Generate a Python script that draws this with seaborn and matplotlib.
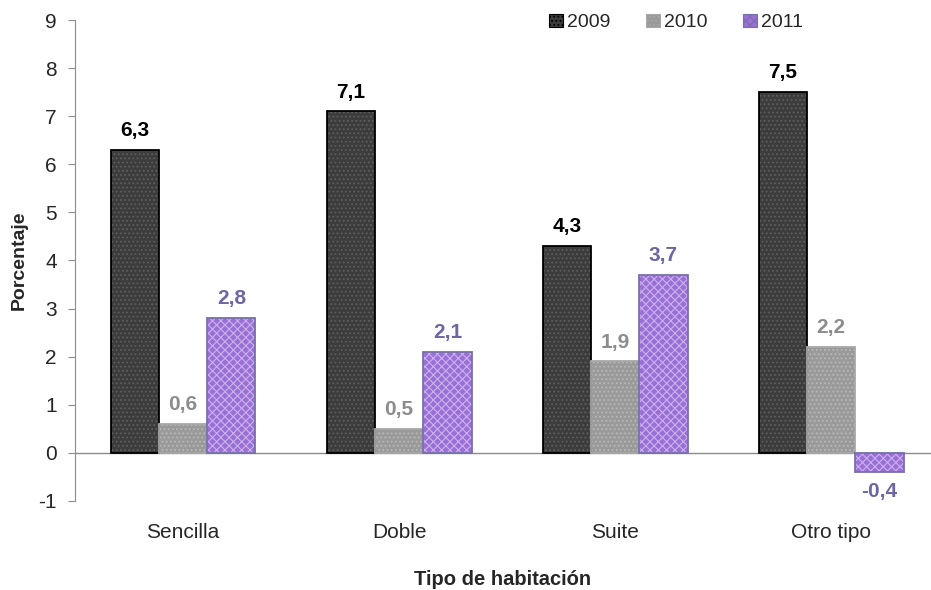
import pandas as pd
import seaborn as sns
import matplotlib.pyplot as plt
from matplotlib.patches import Rectangle

categorias = ["Sencilla", "Doble", "Suite", "Otro tipo"]
anios = ["2009", "2010", "2011"]
v2009 = [6.3, 7.1, 4.3, 7.5]
v2010 = [0.6, 0.5, 1.9, 2.2]
v2011 = [2.8, 2.1, 3.7, -0.4]

df = pd.DataFrame({
    "Tipo": categorias * 3,
    "Año": [a for a in anios for _ in categorias],
    "Porcentaje": v2009 + v2010 + v2011,
})

fill_colors = {"2009": "#3c3c3c", "2010": "#9a9a9a", "2011": "#9b6fd6"}
hatch_colors = {"2009": "#5e5e5e", "2010": "#b8b8b8", "2011": "#c9b3ee"}
edge_colors = {"2009": "#000000", "2010": "#a8a8a8", "2011": "#7870aa"}
label_colors = {"2009": "#000000", "2010": "#8c8c8c", "2011": "#6c66a3"}
hatches = {"2009": "....", "2010": "....", "2011": "xxxx"}

sns.set_style("white")
plt.rcParams["font.family"] = ["Liberation Sans", "DejaVu Sans"]
plt.rcParams["hatch.linewidth"] = 0.8
plt.rcParams["axes.unicode_minus"] = False

fig = plt.figure(figsize=(9.31, 5.9), dpi=100)
ax = fig.add_axes([0.0806, 0.151, 0.919, 0.815])

sns.barplot(data=df, x="Tipo", y="Porcentaje", hue="Año", palette=fill_colors,
            width=0.67, saturation=1, ax=ax, legend=False)

for cont, anio in zip(ax.containers, anios):
    for p in cont:
        p.set_hatch(hatches[anio])
        p.set_edgecolor(hatch_colors[anio])
        p.set_linewidth(0)
        ax.add_patch(Rectangle(p.get_xy(), p.get_width(), p.get_height(),
                               fill=False, edgecolor=edge_colors[anio],
                               linewidth=1.3, zorder=p.get_zorder() + 0.1))
    labels = [f"{v:.1f}".replace(".", ",") for v in cont.datavalues]
    ax.bar_label(cont, labels=labels, padding=7, fontsize=15,
                 fontweight="bold", color=label_colors[anio])

ax.set_ylim(-1, 9)
ax.set_xlim(-0.5, 3.46)
ax.set_yticks(range(-1, 10))
ax.axhline(0, color="#8c8c8c", linewidth=1, zorder=0.5)

for s in ["top", "right", "bottom"]:
    ax.spines[s].set_visible(False)
ax.spines["left"].set_color("#8c8c8c")
ax.tick_params(axis="y", which="both", left=True, length=5, color="#8c8c8c",
               labelsize=15, pad=8)
ax.tick_params(axis="x", length=0, labelsize=15, pad=16)

ax.set_ylabel("Porcentaje", fontsize=14, fontweight="bold", labelpad=8)
ax.set_xlabel("Tipo de habitación", fontsize=14.5, fontweight="bold", labelpad=20)

handles = [Rectangle((0, 0), 1, 1, facecolor=fill_colors[a], hatch=hatches[a],
                     edgecolor=edge_colors[a], linewidth=0.8) for a in anios]
ax.legend(handles, anios, loc="upper right", bbox_to_anchor=(0.871, 1.05), ncol=3,
          frameon=False, fontsize=14, handlelength=0.7, handleheight=0.7,
          handletextpad=0.2, columnspacing=1.85)

fig.savefig("out.png", dpi=100)
